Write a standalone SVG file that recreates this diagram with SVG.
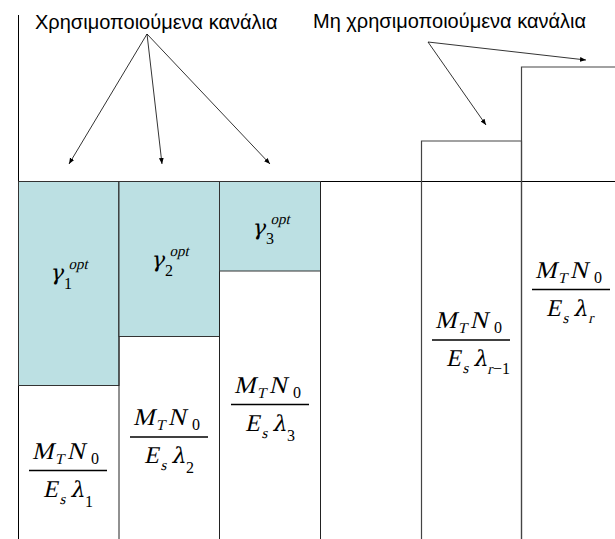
<svg xmlns="http://www.w3.org/2000/svg" width="615" height="539" viewBox="0 0 615 539">
<style>
.lbl{font-family:"Liberation Sans",Arial,sans-serif;font-size:20px;fill:#000}
.m{font-family:"Liberation Serif","Times New Roman",serif;font-style:normal;font-size:24px;fill:#000}
.g{font-family:"DejaVu Serif",serif;font-style:normal;font-size:22px;fill:#000}
.s{font-family:"Liberation Serif","Times New Roman",serif;font-style:normal;font-size:15px;fill:#000}
.d{font-family:"Liberation Serif","Times New Roman",serif;font-style:normal;font-size:16px;fill:#000}
.bar{stroke:#000;stroke-width:1.3}
.ln{stroke:#000;stroke-width:1;fill:none}
.gr{stroke:#444;stroke-width:1.2;fill:none}
.teal{fill:#bce0e3;stroke:#333;stroke-width:1}
.col{fill:none;stroke:#222;stroke-width:1}
.arr{stroke:#000;stroke-width:0.8;fill:none;marker-end:url(#ah)}
</style>
<defs>
<marker id="ah" viewBox="0 0 10 10" refX="10" refY="5" markerWidth="6" markerHeight="6" orient="auto" markerUnits="userSpaceOnUse">
<path d="M0,1 L10,5 L0,9 Z" fill="#000"/>
</marker>
<g id="num">
<g transform="translate(0,-12) skewX(-13)">
<text class="m" x="3" y="0">M</text>
<text class="s" x="27" y="5">T</text>
<text class="m" x="38" y="0">N</text>
</g>
<text class="d" x="62" y="-7">0</text>
<line x1="0" y1="0" x2="78" y2="0" class="bar"/>
</g>
<g id="den">
<g transform="translate(0,26) skewX(-13)">
<text class="m" x="14" y="0">E</text>
<text class="s" x="32" y="7">s</text>
<text class="g" x="41" y="0">λ</text>
</g>
</g>
<g id="gam">
<g transform="skewX(-13)">
<text class="g" x="0" y="0">γ</text>
<text class="s" x="16" y="-11">opt</text>
</g>
</g>
</defs>
<rect width="615" height="539" fill="#fff"/>

<g id="axes">
<line class="ln" x1="18.5" y1="15" x2="18.5" y2="539"/>
<line class="ln" x1="18" y1="181.5" x2="615" y2="181.5"/>
</g>

<g id="channel1">
<rect class="teal" x="18.5" y="181.5" width="100.5" height="204"/>
<line class="col" x1="119" y1="181.5" x2="119" y2="539"/>
<g transform="translate(50,280)">
<use href="#gam"/>
<text class="d" x="14" y="9">1</text>
</g>
<g transform="translate(29,470.5)">
<use href="#num"/>
<use href="#den"/>
<text class="d" x="56" y="36">1</text>
</g>
</g>

<g id="channel2">
<rect class="teal" x="119" y="181.5" width="100.5" height="155"/>
<line class="col" x1="219.5" y1="181.5" x2="219.5" y2="539"/>
<g transform="translate(151,267)">
<use href="#gam"/>
<text class="d" x="14" y="9">2</text>
</g>
<g transform="translate(130,437)">
<use href="#num"/>
<use href="#den"/>
<text class="d" x="56" y="36">2</text>
</g>
</g>

<g id="channel3">
<rect class="teal" x="219.5" y="181.5" width="101" height="89.5"/>
<line class="col" x1="320.5" y1="181.5" x2="320.5" y2="539"/>
<g transform="translate(252,235)">
<use href="#gam"/>
<text class="d" x="14" y="9">3</text>
</g>
<g transform="translate(231,404.5)">
<use href="#num"/>
<use href="#den"/>
<text class="d" x="56" y="36">3</text>
</g>
</g>

<g id="channel_r1">
<polyline class="gr" points="421.5,539 421.5,141 521.5,141 521.5,539"/>
<g transform="translate(432,340)">
<use href="#num"/>
<use href="#den"/>
<text class="s" x="55" y="34" transform="skewX(-13) translate(8,0)">r</text>
<text class="d" x="61" y="34">−1</text>
</g>
</g>

<g id="channel_r">
<polyline class="gr" points="521.5,539 521.5,67 615,67"/>
<g transform="translate(532,289.5)">
<use href="#num"/>
<use href="#den"/>
<text class="s" x="56" y="34" transform="skewX(-13) translate(8,0)">r</text>
</g>
</g>

<g id="label_used">
<text class="lbl" x="35" y="29">Χρησιμοποιούμενα κανάλια</text>
</g>
<g id="label_unused">
<text class="lbl" x="313" y="28">Μη χρησιμοποιούμενα κανάλια</text>
</g>

<g id="connectors">
<line class="arr" x1="147" y1="34" x2="69" y2="164"/>
<line class="arr" x1="147" y1="34" x2="162" y2="164"/>
<line class="arr" x1="147" y1="34" x2="270" y2="164"/>
<line class="arr" x1="428" y1="42" x2="486" y2="125"/>
<line class="arr" x1="428" y1="42" x2="586" y2="60"/>
</g>
</svg>
